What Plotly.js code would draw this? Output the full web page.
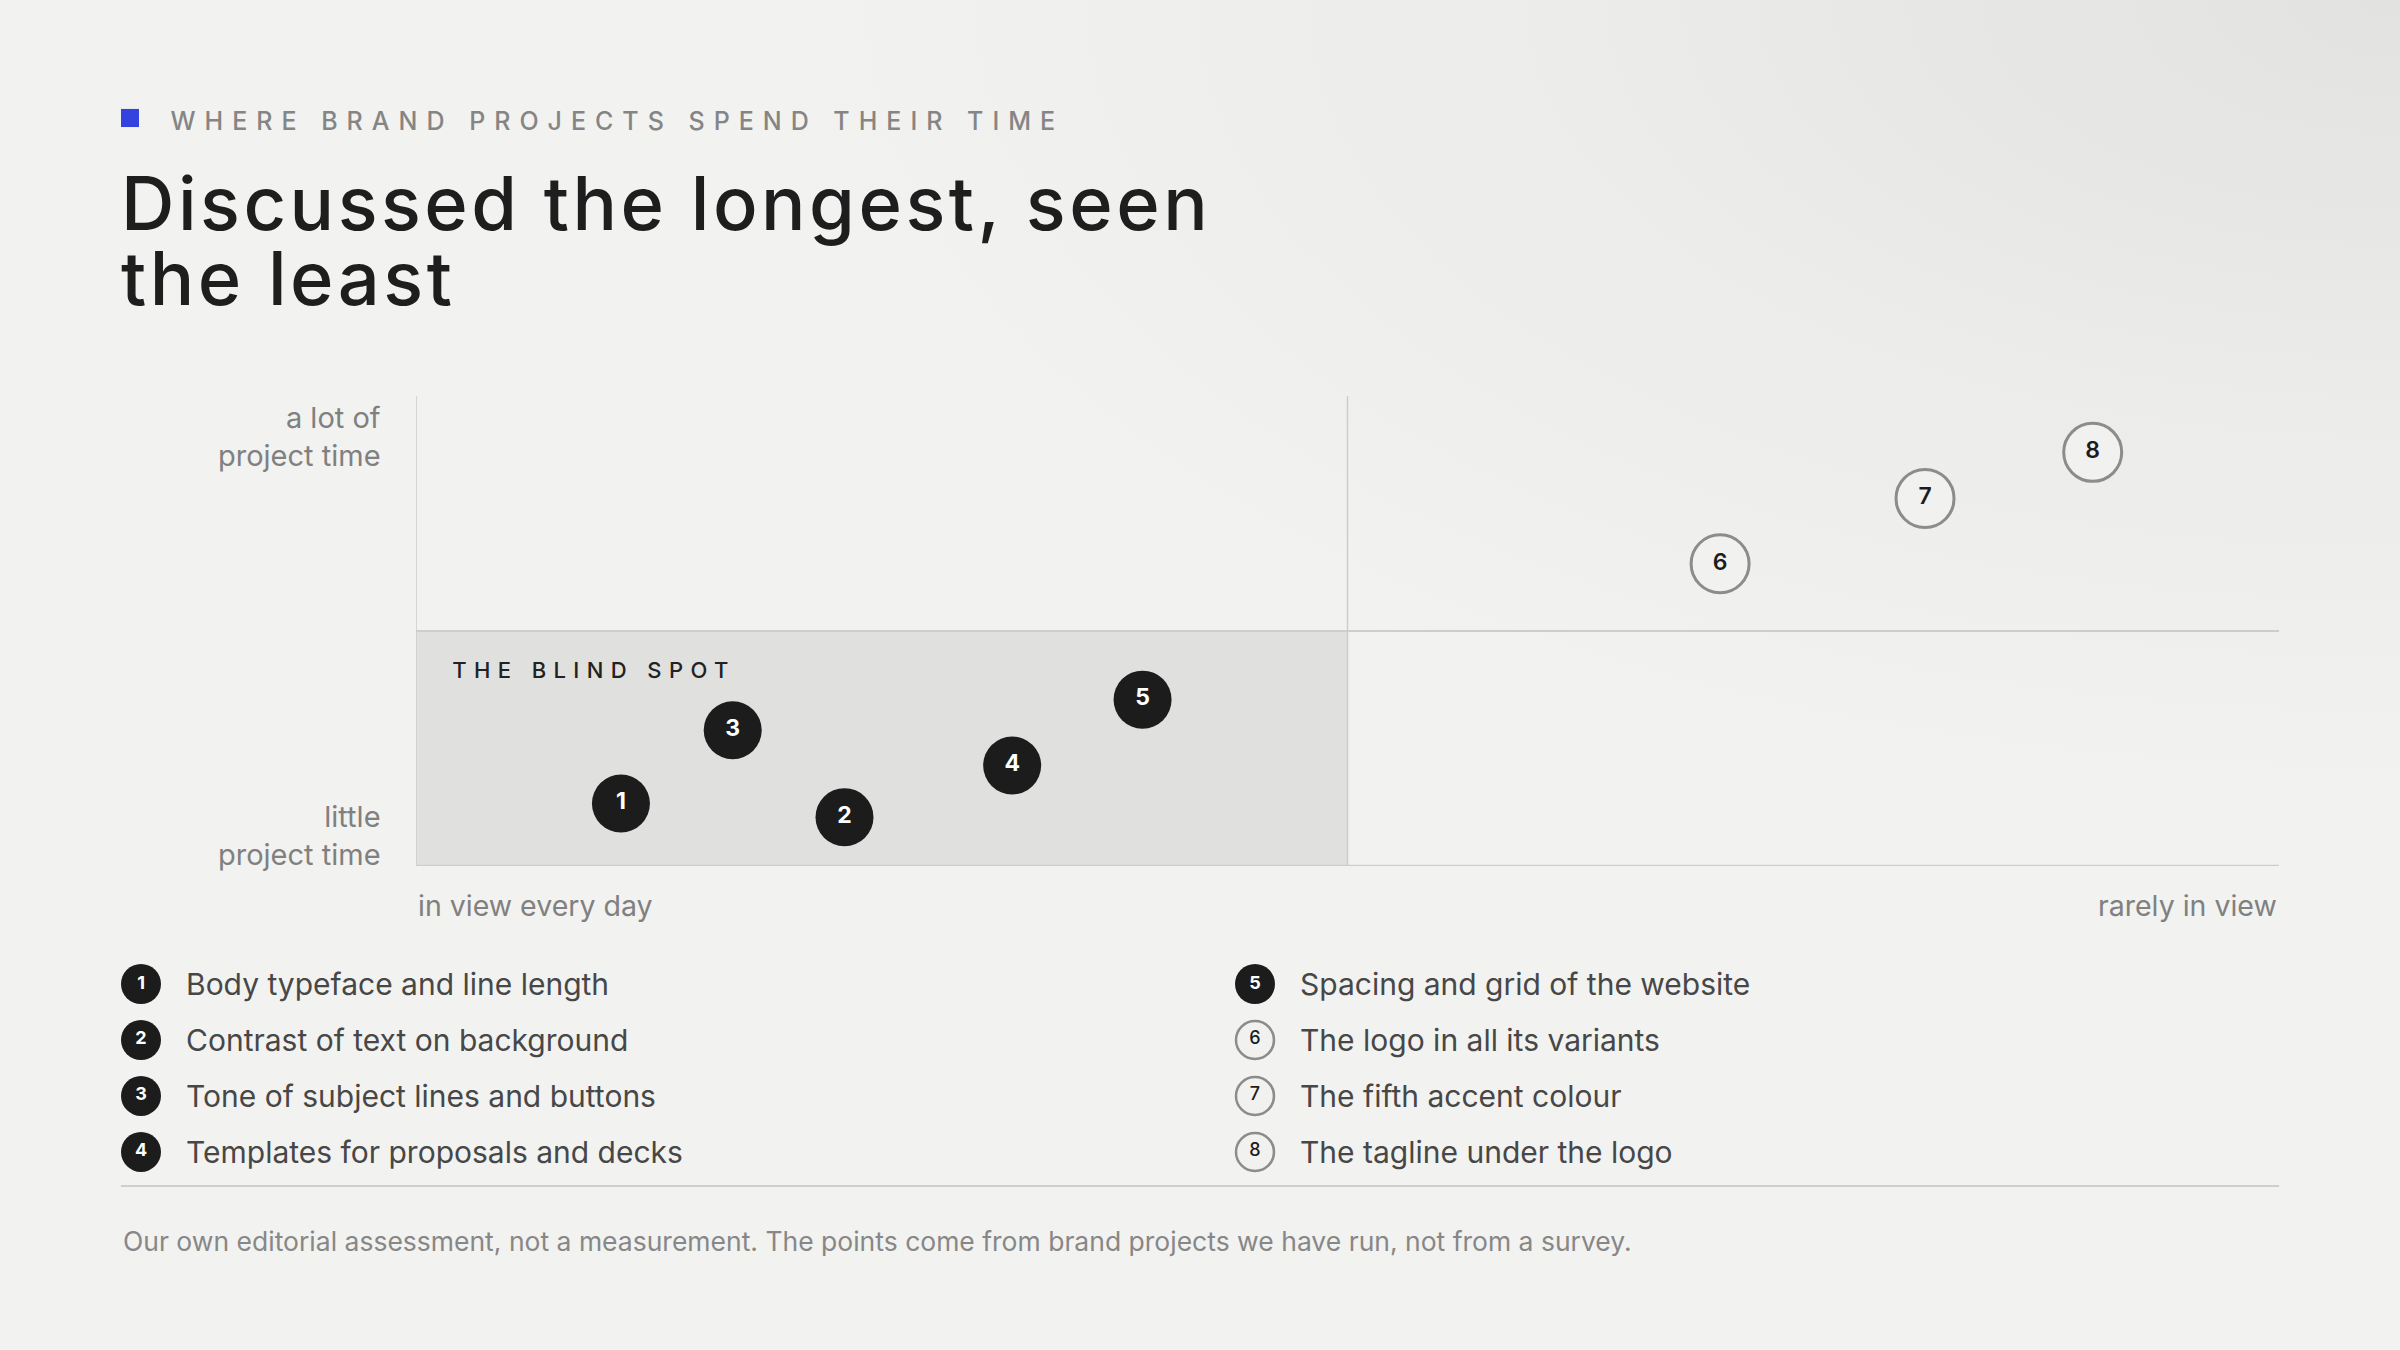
<!DOCTYPE html>
<html>
<head>
<meta charset="utf-8">
<script src="https://cdn.plot.ly/plotly-3.0.1.min.js"></script>
<style>
  html, body { margin: 0; padding: 0; }
  body {
    width: 2400px; height: 1350px; overflow: hidden;
    background: radial-gradient(ellipse 90% 80% at 100% 0%, #e2e2e0 0%, #ececea 40%, #f2f2f0 75%);
  }
  #chart { width: 2400px; height: 1350px; }
</style>
</head>
<body>
<div id="chart"></div>
<script>
"use strict";
// where brand projects spend their time (editorial estimate)
var labels=[
	'Body typeface and line length',
	'Contrast of text on background',
	'Tone of subject lines and buttons',
	'Templates for proposals and decks',
	'Spacing and grid of the website',
	'The logo in all its variants',
	'The fifth accent colour',
	'The tagline under the logo'
];
var visibility=[1.1, 2.3, 1.7, 3.2, 3.9, 7.0, 8.1, 9.0];   // 0 = in view every day, 10 = rarely in view
var projectTime=[1.33, 1.04, 2.89, 2.14, 3.54, 6.43, 7.82, 8.80]; // 0 = little, 10 = a lot
var numbers=labels.map(function(l, i){ return String(i+1); });

var FONT='Inter, "Noto Sans", sans-serif';
var INK='#1c1c1c', GREY='#808080', LINE='#cdcdcd';

function isBlind(i){ return visibility[i]<5 && projectTime[i]<5; }
function pick(arr, keep){ return arr.filter(function(v, i){ return keep(i); }); }
var blind=function(i){ return isBlind(i); };
var other=function(i){ return !isBlind(i); };

// legend positions: two columns of four rows
var legCol=labels.map(function(l, i){ return i<4 ? 0 : 1; });
var legRow=labels.map(function(l, i){ return i%4; });

var traces=[
	{ // the blind spot
		x: pick(visibility, blind), y: pick(projectTime, blind), text: pick(numbers, blind),
		type: 'scatter', mode: 'markers+text', textposition: 'middle center', cliponaxis: false,
		marker: {size: 58, color: INK, line: {width: 0}},
		textfont: {family: FONT, size: 23, color: '#ffffff', weight: 700},
		hoverinfo: 'skip'
	},
	{ // the rest
		x: pick(visibility, other), y: pick(projectTime, other), text: pick(numbers, other),
		type: 'scatter', mode: 'markers+text', textposition: 'middle center', cliponaxis: false,
		marker: {size: 58, color: '#f1f1ef', line: {width: 3, color: '#8c8c8c'}},
		textfont: {family: FONT, size: 23, color: INK, weight: 600},
		hoverinfo: 'skip'
	},
	{ // legend keys, blind spot
		x: pick(legCol, blind), y: pick(legRow, blind), text: pick(numbers, blind),
		xaxis: 'x2', yaxis: 'y2',
		type: 'scatter', mode: 'markers+text', textposition: 'middle center', cliponaxis: false,
		marker: {size: 40, color: INK, line: {width: 0}},
		textfont: {family: FONT, size: 18, color: '#ffffff', weight: 700},
		hoverinfo: 'skip'
	},
	{ // legend keys, rest
		x: pick(legCol, other), y: pick(legRow, other), text: pick(numbers, other),
		xaxis: 'x2', yaxis: 'y2',
		type: 'scatter', mode: 'markers+text', textposition: 'middle center', cliponaxis: false,
		marker: {size: 38, color: '#f1f1ef', line: {width: 2.5, color: '#8c8c8c'}},
		textfont: {family: FONT, size: 18, color: INK, weight: 500},
		hoverinfo: 'skip'
	}
];

var hidden={showgrid: false, zeroline: false, showticklabels: false, showline: false, ticks: '', fixedrange: true};

var annotations=[
	{text: 'WHERE BRAND PROJECTS SPEND THEIR TIME', xref: 'paper', yref: 'paper', x: 0.07, y: 0.9104,
		xanchor: 'left', yanchor: 'middle', showarrow: false, spacing: 9,
		font: {family: FONT, size: 25, color: '#858585', weight: 500}},
	{text: 'Discussed the longest, seen<br>the least', xref: 'paper', yref: 'paper', x: 0.0495, y: 0.8844,
		xanchor: 'left', yanchor: 'top', align: 'left', showarrow: false, spacing: 3.5,
		font: {family: FONT, size: 74, color: '#1e1e1e', weight: 500}},
	{text: 'THE BLIND SPOT', xref: 'x', yref: 'y', x: 0, y: 5, xshift: 34, yshift: -39,
		xanchor: 'left', yanchor: 'middle', showarrow: false, spacing: 7.4,
		font: {family: FONT, size: 22, color: '#222222', weight: 500}},
	{text: 'a lot of<br>project time', xref: 'paper', yref: 'paper', x: 383/2400, y: 0.677,
		xanchor: 'right', yanchor: 'middle', align: 'right', showarrow: false,
		font: {family: FONT, size: 29, color: GREY}},
	{text: 'little<br>project time', xref: 'paper', yref: 'paper', x: 383/2400, y: 0.3811,
		xanchor: 'right', yanchor: 'middle', align: 'right', showarrow: false,
		font: {family: FONT, size: 29, color: GREY}},
	{text: 'in view every day', xref: 'x', yref: 'paper', x: 0, y: 0.3296,
		xanchor: 'left', yanchor: 'middle', showarrow: false,
		font: {family: FONT, size: 28.5, color: GREY}},
	{text: 'rarely in view', xref: 'x', yref: 'paper', x: 10, y: 0.3296,
		xanchor: 'right', yanchor: 'middle', showarrow: false,
		font: {family: FONT, size: 28.5, color: GREY}},
	{text: 'Our own editorial assessment, not a measurement. The points come from brand projects we have run, not from a survey.',
		xref: 'paper', yref: 'paper', x: 0.0504, y: 0.0807,
		xanchor: 'left', yanchor: 'middle', showarrow: false,
		font: {family: FONT, size: 26.5, color: '#878787'}}
];
labels.forEach(function(label, i){
	annotations.push({text: label, xref: 'x2', yref: 'y2', x: legCol[i], y: legRow[i], xshift: 43,
		xanchor: 'left', yanchor: 'middle', showarrow: false,
		font: {family: FONT, size: 30, color: '#474747'}});
});

// letter spacing: plotly measures text without it and centres single lines,
// so push centred ones right by half the extra width (left aligned ones grow to the right anyway)
var css='';
annotations.forEach(function(ann, i){
	if (!ann.spacing) return;
	css+='g.annotation[data-index="'+i+'"] text{letter-spacing:'+ann.spacing+'px;}\n';
	if (ann.align!=='left'){
		ann.xshift=(ann.xshift||0)+ann.text.length*ann.spacing/2;
	}
	delete ann.spacing;
});
var styleEl=document.createElement('style');
styleEl.textContent=css;
document.head.appendChild(styleEl);

var layout={
	width: 2400, height: 1350,
	margin: {l: 0, r: 0, t: 0, b: 0},
	paper_bgcolor: 'rgba(0,0,0,0)', plot_bgcolor: 'rgba(0,0,0,0)',
	showlegend: false,
	xaxis: Object.assign({domain: [416/2400, 2279/2400], range: [0, 10]}, hidden),
	yaxis: Object.assign({domain: [0.3585, 0.7067], range: [0, 10]}, hidden),
	xaxis2: Object.assign({domain: [141/2400, 1255/2400], range: [0, 1], anchor: 'y2'}, hidden),
	yaxis2: Object.assign({domain: [0.1467, 0.2711], range: [3, 0], anchor: 'x2'}, hidden),
	annotations: annotations,
	shapes: [
		{type: 'rect', xref: 'x', yref: 'y', x0: 0, x1: 5, y0: 0, y1: 5, fillcolor: '#e0e0de', line: {width: 0}, layer: 'below'},
		{type: 'line', xref: 'x', yref: 'y', x0: 0, x1: 0, y0: 0, y1: 10, line: {color: LINE, width: 1.5}, layer: 'below'},
		{type: 'line', xref: 'x', yref: 'y', x0: 5, x1: 5, y0: 0, y1: 10, line: {color: LINE, width: 1.5}, layer: 'below'},
		{type: 'line', xref: 'x', yref: 'y', x0: 0, x1: 10, y0: 5, y1: 5, line: {color: LINE, width: 2}, layer: 'below'},
		{type: 'line', xref: 'x', yref: 'y', x0: 0, x1: 10, y0: 0, y1: 0, line: {color: LINE, width: 2.5}, layer: 'below'},
		// separator above the footnote
		{type: 'line', xref: 'paper', yref: 'paper', x0: 0.0504, x1: 0.9496, y0: 0.1215, y1: 0.1215, line: {color: '#cfcfcf', width: 2}},
		// blue marker before the kicker
		{type: 'rect', xref: 'paper', yref: 'paper', x0: 121/2400, x1: 139/2400, y0: 0.9059, y1: 0.9193, fillcolor: '#3442e0', line: {width: 0}}
	]
};

Plotly.newPlot('chart', traces, layout, {staticPlot: true, displayModeBar: false}).then(function(gd){
	// the headline is set tight (about 1em leading) instead of plotly's 1.3em
	var lines=gd.querySelectorAll('g.annotation[data-index="1"] tspan.line');
	Array.prototype.forEach.call(lines, function(tspan, i){
		tspan.setAttribute('dy', (i*1.01)+'em');
	});
});
</script>
</body>
</html>
